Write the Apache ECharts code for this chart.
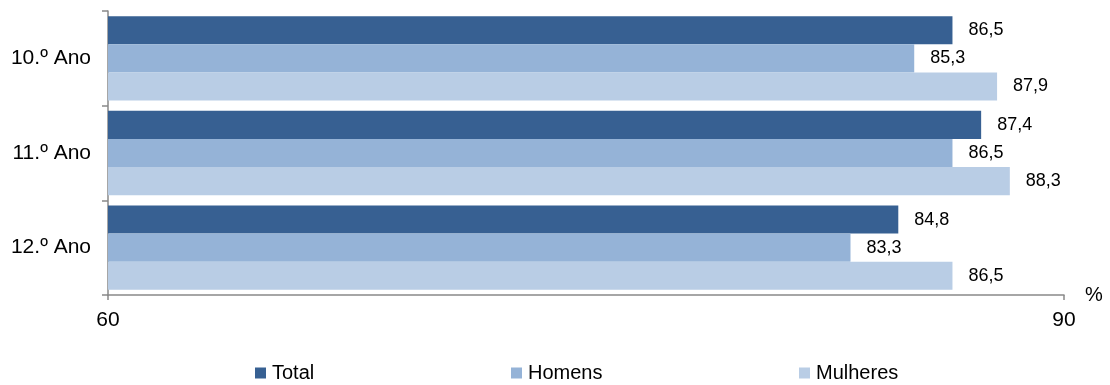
<!DOCTYPE html>
<html>
<head>
<meta charset="utf-8">
<script src="https://cdn.jsdelivr.net/npm/echarts@6/dist/echarts.min.js"></script>
<style>
  html, body { margin: 0; padding: 0; background: #fff; }
  #chart { width: 1110px; height: 385px; }
</style>
</head>
<body>
<div id="chart"></div>
<script>
  const categories = ['10.º Ano', '11.º Ano', '12.º Ano'];
  const totalValues = [86.5, 87.4, 84.8];
  const homensValues = [85.3, 86.5, 83.3];
  const mulheresValues = [87.9, 88.3, 86.5];

  const colors = ['#376092', '#95b3d7', '#b9cde5'];
  const font = 'Liberation Sans, Arial, sans-serif';
  const axisColor = '#898989';

  const label = {
    show: true,
    position: 'right',
    distance: 16,
    color: '#000',
    fontFamily: font,
    fontSize: 18,
    formatter: p => String(p.value).replace('.', ',')
  };

  function bar(name, data, color) {
    return {
      name: name,
      type: 'bar',
      data: data,
      barGap: '0%',
      barCategoryGap: '11%',
      itemStyle: { color: color },
      label: label,
      emphasis: { disabled: true }
    };
  }

  // one legend per item, the original spacing is uneven
  function legendAt(name, left) {
    return {
      data: [name],
      left: left,
      top: 358,
      itemWidth: 11,
      itemHeight: 11,
      icon: 'rect',
      textStyle: { fontFamily: font, fontSize: 20, lineHeight: 20, color: '#000', padding: [0, 0, 0, 1] }
    };
  }

  const chart = echarts.init(document.getElementById('chart'));
  chart.setOption({
    animation: false,
    color: colors,
    grid: { left: 108, right: 46, top: 11, bottom: 90, containLabel: false },
    legend: [
      legendAt('Total', 250),
      legendAt('Homens', 506),
      legendAt('Mulheres', 794)
    ],
    xAxis: {
      type: 'value',
      min: 60,
      max: 90,
      interval: 30,
      name: '%',
      nameLocation: 'end',
      nameGap: 21,
      nameTextStyle: { fontFamily: font, fontSize: 20, color: '#000', padding: [0, 0, 6, 0] },
      axisLine: { show: true, lineStyle: { color: axisColor, width: 1.5 } },
      axisTick: { show: true, length: 5, lineStyle: { color: axisColor, width: 1.5 } },
      axisLabel: { fontFamily: font, fontSize: 21, color: '#000', margin: 15 },
      splitLine: { show: false }
    },
    yAxis: {
      type: 'category',
      data: categories,
      inverse: true,
      axisLine: { show: true, lineStyle: { color: axisColor, width: 1.5 } },
      axisTick: { show: true, length: 6, lineStyle: { color: axisColor, width: 1.5 } },
      axisLabel: { fontFamily: font, fontSize: 21, color: '#000', margin: 17 }
    },
    series: [
      bar('Total', totalValues, colors[0]),
      bar('Homens', homensValues, colors[1]),
      bar('Mulheres', mulheresValues, colors[2])
    ]
  });
</script>
</body>
</html>
